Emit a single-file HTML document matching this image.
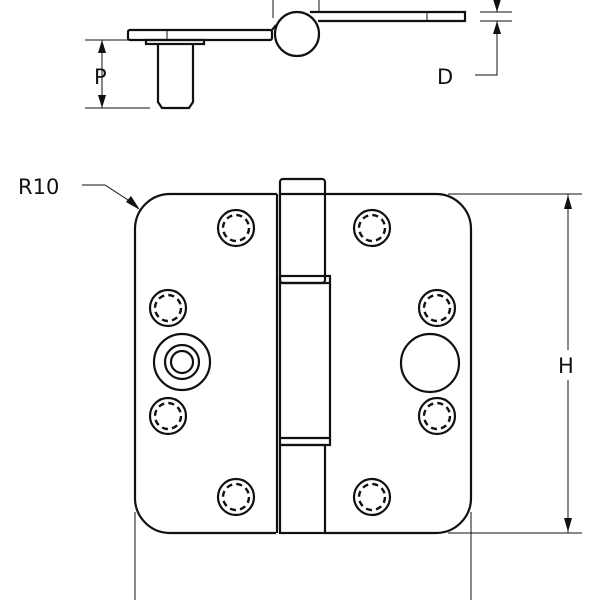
<!DOCTYPE html>
<html><head><style>body{margin:0;background:#fff}svg{display:block}text{font-family:"DejaVu Sans","Liberation Sans",sans-serif;font-size:21px;fill:#111}</style></head>
<body>
<svg width="600" height="600" viewBox="0 0 600 600" xmlns="http://www.w3.org/2000/svg">
<defs>
<g id="scr">
<circle r="18" fill="none" stroke="#111" stroke-width="2.2"/>
<circle r="13" fill="none" stroke="#111" stroke-width="2.4" stroke-dasharray="6 4.2"/>
</g>
</defs>
<g fill="none" stroke="#111" stroke-width="2.2">
<rect x="128" y="30" width="144" height="10" rx="2"/>
<line x1="167" y1="30" x2="167" y2="40" stroke-width="1"/>
<rect x="146" y="40" width="58" height="4"/>
<path d="M158 44 V102 L162 108 H189 L193 102 V44"/>
<circle cx="297" cy="34" r="22"/>
<path d="M272 30 L276 25"/>
<path d="M310 12 H465 V21 H318"/>
<line x1="427" y1="12" x2="427" y2="21" stroke-width="1"/>
<line x1="273" y1="0" x2="273" y2="18" stroke-width="1"/>
<line x1="319" y1="0" x2="319" y2="12" stroke-width="1"/>
</g>
<g stroke="#111" stroke-width="1" fill="none">
<line x1="85" y1="40" x2="148" y2="40"/><line x1="85" y1="108" x2="150" y2="108"/>
<line x1="102" y1="40" x2="102" y2="108"/>
<line x1="480" y1="12" x2="512" y2="12"/><line x1="480" y1="21" x2="512" y2="21"/>
<line x1="497" y1="0" x2="497" y2="12"/>
<path d="M497 21 V75 H475"/>
<line x1="568" y1="194" x2="568" y2="350"/><line x1="568" y1="380" x2="568" y2="533"/>
<line x1="448" y1="194" x2="582" y2="194"/><line x1="448" y1="533" x2="582" y2="533"/>
<line x1="135" y1="512" x2="135" y2="600"/><line x1="471" y1="512" x2="471" y2="600"/>
<path d="M82 185 H105 L128 200"/>
</g>
<g fill="#111">
<path d="M102 40 l-4 13 h8z M102 108 l-4 -13 h8z"/>
<path d="M497 12 l-4 -13 h8z M497 21 l-4 13 h8z"/>
<path d="M568 195 l-4 14 h8z M568 532 l-4 -14 h8z"/>
<path d="M140 210 l-14 -8 l5 -6z"/>
</g>
<text x="94" y="84">P</text>
<text x="437" y="84">D</text>
<text x="558" y="373">H</text>
<text x="18" y="194">R10</text>
<g fill="none" stroke="#111" stroke-width="2.2">
<path d="M277 194 H170 A35 35 0 0 0 135 229 V498 A35 35 0 0 0 170 533 H276"/>
<path d="M277 194 V282 M277 282 V533" />
<path d="M325 194 H436 A35 35 0 0 1 471 229 V498 A35 35 0 0 1 436 533 H325"/>
<rect x="280" y="179" width="45" height="104" rx="3"/>
<line x1="280" y1="194" x2="325" y2="194"/>
<rect x="280" y="276" width="50" height="169"/>
<line x1="280" y1="283" x2="330" y2="283"/>
<line x1="280" y1="438" x2="330" y2="438"/>
<rect x="280" y="445" width="45" height="88"/>
<circle cx="182" cy="362" r="28"/>
<circle cx="182" cy="362" r="17"/>
<circle cx="182" cy="362" r="11"/>
<circle cx="430" cy="363" r="29"/>
</g>
<use href="#scr" x="236" y="228"/>
<use href="#scr" x="372" y="228"/>
<use href="#scr" x="168" y="308"/>
<use href="#scr" x="437" y="308"/>
<use href="#scr" x="168" y="416"/>
<use href="#scr" x="437" y="416"/>
<use href="#scr" x="236" y="497"/>
<use href="#scr" x="372" y="497"/>
</svg>
</body></html>
